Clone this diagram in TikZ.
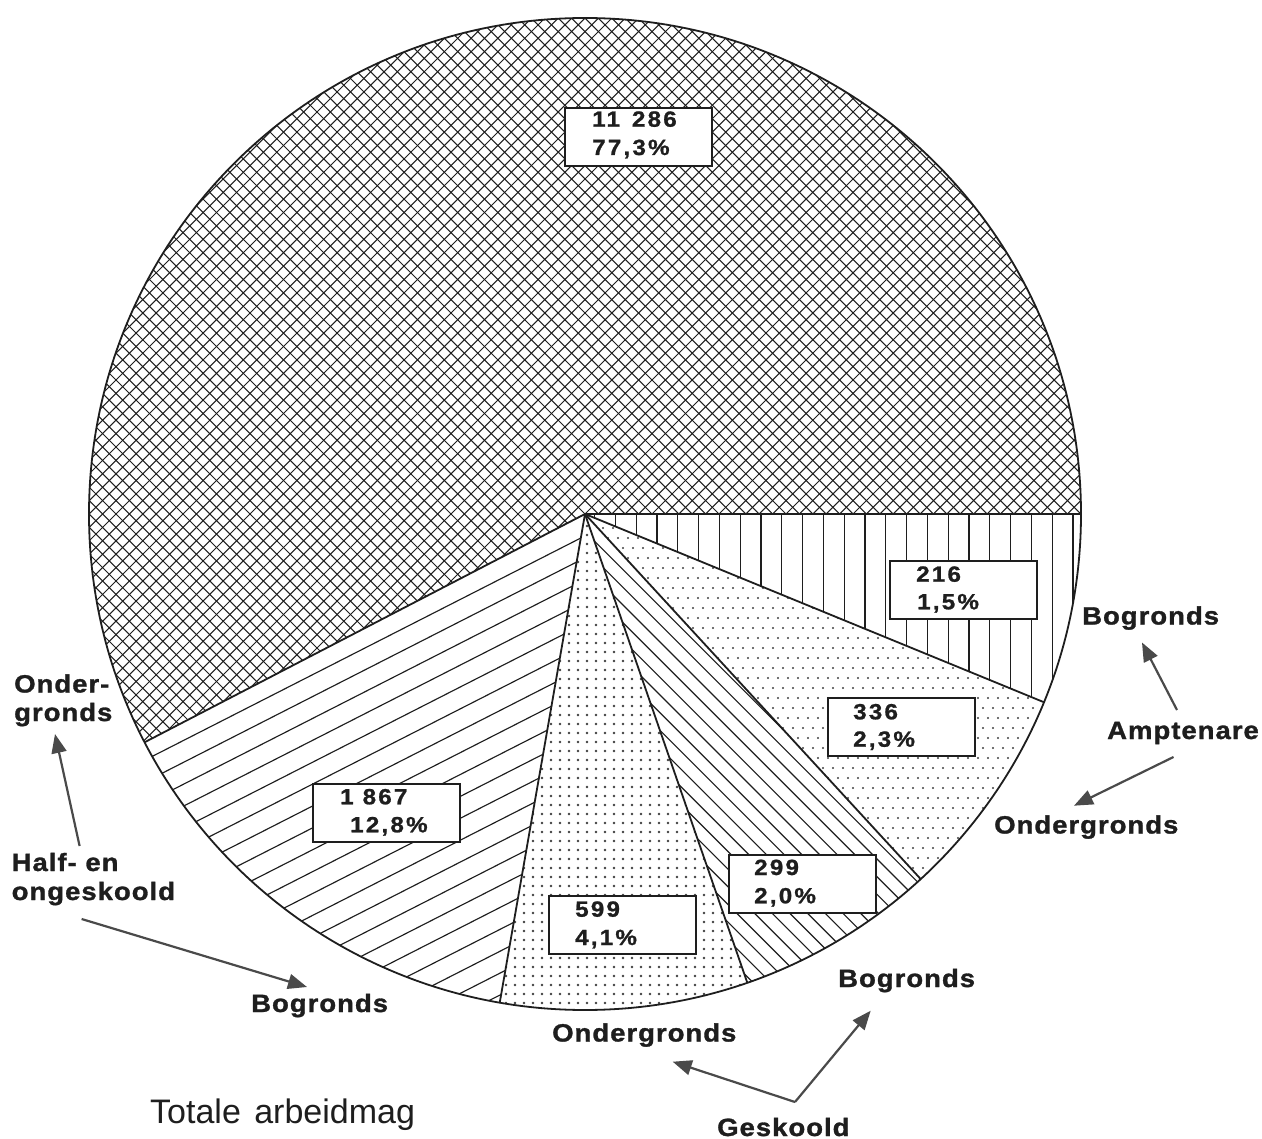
\documentclass[tikz,border=0pt]{standalone}
\usepackage{fontspec}
\setmainfont{Liberation Sans}
\newfontfamily\lblfont{Liberation Sans}[FakeStretch=1.1, LetterSpace=4, FakeBold=1.2]
\newfontfamily\numfont{Liberation Sans}[FakeStretch=1.1, LetterSpace=10, FakeBold=1]
\usetikzlibrary{arrows.meta}

\definecolor{ink}{HTML}{1E1E1E}
\definecolor{arrowgray}{HTML}{4A4A4A}

\tikzset{
  piewedge/.style 2 args={insert path={(0,0) -- (#1:496) arc[start angle=#1, end angle=#2, radius=496] -- cycle}},
  outline/.style={draw=ink, line width=1.8pt},
  hatch/.style={draw=ink, line width=1.15pt},
  xhatch/.style={draw=ink, line width=1.05pt},
  dot/.style={fill=ink!85},
  numbox/.style={draw=ink, fill=white, line width=1.8pt, minimum width=147pt, minimum height=58pt, anchor=north west, inner sep=0pt},
  numtext/.style={font=\numfont\bfseries\fontsize{22}{24}\selectfont, text=ink, anchor=base west, inner sep=0pt},
  lbl/.style={font=\lblfont\bfseries\fontsize{25}{29}\selectfont, text=ink, anchor=base west, inner sep=0pt},
  title/.style={font=\fontsize{34}{38}\selectfont, text=ink, anchor=base west, inner sep=0pt},
  pointer/.style={draw=arrowgray, line width=2.2pt, -{Triangle[length=19pt,width=15pt]}},
}

\begin{document}
\begin{tikzpicture}[x=1pt,y=-1pt]
  % page frame
  \path[fill=white] (0,0) rectangle (1262,1139);
  \useasboundingbox (0,0) rectangle (1262,1139);

  \begin{scope}[shift={(585,514)}]
    % crosshatched wedge
    \begin{scope}
      \clip[piewedge={152.6}{360}];
      \foreach \k in {-76,...,76} {
        \draw[xhatch] ({\k*13.4-620},-620) -- ({\k*13.4+620},620);
        \draw[xhatch] ({\k*13.4-620},620) -- ({\k*13.4+620},-620);
      }
    \end{scope}
    % vertical lines wedge
    \begin{scope}
      \clip[piewedge={0}{22.3}];
      \foreach \k in {-14,...,11}
        \draw[hatch] ({280+20.8*\k},-10) -- ({280+20.8*\k},500);
    \end{scope}
    % light dotted wedge
    \begin{scope}
      \clip[piewedge={22.3}{47.4}];
      \foreach \j in {0,...,38} {
        \pgfmathsetmacro{\off}{mod(\j,2)*5}
        \foreach \i in {0,...,50}
          \fill[dot] ({\i*10+\off+3},{\j*10+4}) circle[radius=1.2];
      }
    \end{scope}
    % descending diagonal wedge
    \begin{scope}
      \clip[piewedge={47.4}{70.9}];
      \begin{scope}[rotate=-45]
        \foreach \k in {-45,...,45}
          \draw[hatch] (-800,{\k*12.5}) -- (800,{\k*12.5});
      \end{scope}
    \end{scope}
    % dense dotted wedge
    \begin{scope}
      \clip[piewedge={70.9}{99.9}];
      \foreach \j in {0,...,56}
        \foreach \i in {-11,...,19}
          \fill[dot] ({\i*9+2},{\j*9+3}) circle[radius=1.3];
    \end{scope}
    % ascending diagonal wedge
    \begin{scope}
      \clip[piewedge={99.9}{152.6}];
      \begin{scope}[rotate=27]
        \foreach \k in {-35,...,35}
          \draw[hatch] (-800,{\k*19.5}) -- (800,{\k*19.5});
      \end{scope}
    \end{scope}
    % outlines
    \draw[outline] (0,0) circle[radius=496];
    \foreach \a in {0,22.3,47.4,70.9,99.9,152.6}
      \draw[outline] (0,0) -- (\a:496);
  \end{scope}

  % value boxes
  \node[numbox] (b11286) at (564,107) {};
  \node[numtext] (b11286n) at (592,126.7) {11\hspace{12pt}286};
  \node[numtext] (b11286p) at (592,155) {77,3\%};

  \node[numbox] (b216) at (889,560) {};
  \node[numtext] (b216n) at (916,581.7) {216};
  \node[numtext] (b216p) at (917,609.3) {1,5\%};

  \node[numbox] (b336) at (827,697) {};
  \node[numtext] (b336n) at (853,719.3) {336};
  \node[numtext] (b336p) at (853,746.7) {2,3\%};

  \node[numbox] (b299) at (728,854) {};
  \node[numtext] (b299n) at (754,875) {299};
  \node[numtext] (b299p) at (754,903.3) {2,0\%};

  \node[numbox] (b599) at (548,895) {};
  \node[numtext] (b599n) at (575,916.7) {599};
  \node[numtext] (b599p) at (575,945) {4,1\%};

  \node[numbox] (b1867) at (312,783) {};
  \node[numtext] (b1867n) at (340,804.3) {1\hspace{9pt}867};
  \node[numtext] (b1867p) at (350,832.3) {12,8\%};

  % category labels
  \node[lbl] (ondA1) at (14,692.5) {Onder-};
  \node[lbl] (ondA2) at (14,721) {gronds};
  \node[lbl] (half1) at (11.5,871) {Half- en};
  \node[lbl] (half2) at (11.5,900) {ongeskoold};
  \node[lbl] (bogA) at (251,1012) {Bogronds};
  \node[lbl] (ondB) at (552,1041.5) {Ondergronds};
  \node[lbl] (gesk) at (717,1136) {Geskoold};
  \node[lbl] (bogB) at (838,987) {Bogronds};
  \node[lbl] (ampt) at (1107,739) {Amptenare};
  \node[lbl] (bogC) at (1082,624.5) {Bogronds};
  \node[lbl] (ondC) at (994,833.5) {Ondergronds};
  \node[title] (total) at (150,1123) {Totale\hspace{4pt} arbeidmag};

  % pointer ends
  \coordinate (hUp0) at (79.6,846);
  \coordinate (hUp1) at (55,734);
  \coordinate (hDn0) at (81.6,919);
  \coordinate (hDn1) at (307,987);
  \coordinate (gs0) at (795,1102);
  \coordinate (gsL) at (672.7,1061.7);
  \coordinate (gsR) at (870.7,1010.7);
  \coordinate (amU0) at (1177,710);
  \coordinate (amU1) at (1142,642.5);
  \coordinate (amD0) at (1173.5,757);
  \coordinate (amD1) at (1074,805.7);

  \draw[pointer] (hUp0) -- (hUp1);
  \draw[pointer] (hDn0) -- (hDn1);
  \draw[pointer] (gs0) -- (gsL);
  \draw[pointer] (gs0) -- (gsR);
  \draw[pointer] (amU0) -- (amU1);
  \draw[pointer] (amD0) -- (amD1);
\end{tikzpicture}
\end{document}
